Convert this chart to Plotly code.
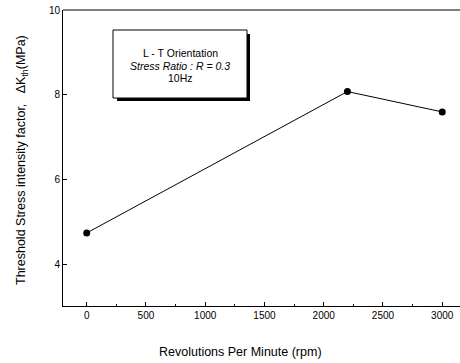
import plotly.graph_objects as go

rpm = [0, 2200, 3000]
dk_th = [4.75, 8.08, 7.6]
x_ticks = [0, 500, 1000, 1500, 2000, 2500, 3000]
y_ticks = [4, 6, 8, 10]
box_lines = ["L - T Orientation", "<i>Stress Ratio : R = 0.3</i>", "10Hz"]
x_title = "Revolutions Per Minute (rpm)"
y_title = "Threshold Stress intensity factor,   ΔK<sub>th</sub>(MPa)"

W, H = 460, 363
ml, mr, mt, mb = 63, 0, 10, 57
pw, ph = W - ml - mr, H - mt - mb

def px(x):
    return (x - ml) / pw

def py(y):
    return (H - mb - y) / ph

fig = go.Figure()
fig.add_trace(go.Scatter(
    x=rpm, y=dk_th, mode="lines+markers",
    line=dict(color="black", width=1),
    marker=dict(color="black", size=7),
    showlegend=False, cliponaxis=False,
))

font = "Liberation Sans, Arial, sans-serif"
fig.update_layout(
    width=W, height=H,
    margin=dict(l=ml, r=mr, t=mt, b=mb, autoexpand=False),
    paper_bgcolor="white", plot_bgcolor="white",
    font=dict(family=font, color="black"),
    xaxis=dict(
        range=[-200, 3150], tickvals=x_ticks, ticks="inside", ticklen=4,
        tickcolor="black", showgrid=False, zeroline=False, automargin=False,
        showline=True, linecolor="black", linewidth=1, mirror=False,
        tickfont=dict(size=10, family=font),
        minor=dict(dtick=250, tick0=0, ticks="inside", ticklen=2, tickcolor="black"),
    ),
    yaxis=dict(
        range=[3.03, 10], tickvals=y_ticks, ticks="inside", ticklen=4,
        tickcolor="black", showgrid=False, zeroline=False, automargin=False,
        showline=True, linecolor="black", linewidth=1,
        tickfont=dict(size=10, family=font),
    ),
)

# axis titles
fig.add_annotation(text=x_title, xref="paper", yref="paper", x=px(240), y=py(352),
                   showarrow=False, font=dict(size=12.5, family=font),
                   xanchor="center", yanchor="middle")
fig.add_annotation(text=y_title, xref="paper", yref="paper", x=px(22), y=py(160),
                   showarrow=False, font=dict(size=12.5, family=font), textangle=-90,
                   xanchor="center", yanchor="middle")

# top border
fig.add_shape(type="line", xref="paper", yref="paper", x0=0, x1=1, y0=1, y1=1,
              line=dict(color="black", width=1))

# annotation box with shadow
bx0, bx1, by0, by1 = 113, 247, 30, 98
fig.add_shape(type="rect", xref="paper", yref="paper",
              x0=px(bx0 + 4), x1=px(bx1 + 3), y0=py(by1 + 3), y1=py(by0 + 4),
              fillcolor="black", line=dict(width=0), layer="above")
fig.add_shape(type="rect", xref="paper", yref="paper",
              x0=px(bx0), x1=px(bx1), y0=py(by1), y1=py(by0),
              fillcolor="white", line=dict(color="black", width=1), layer="above")

for txt, yy in zip(box_lines, [53, 66, 78]):
    fig.add_annotation(text=txt, xref="paper", yref="paper", x=px(180), y=py(yy),
                       showarrow=False, font=dict(size=10.5, family=font),
                       xanchor="center", yanchor="middle")

fig.write_html("out.html", config={"displayModeBar": False},
               post_script="document.body.style.margin='0px';document.body.style.overflow='hidden';")
